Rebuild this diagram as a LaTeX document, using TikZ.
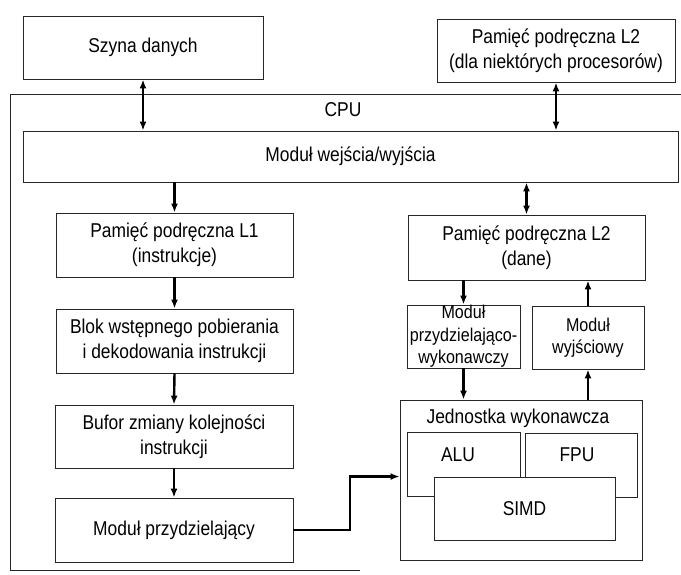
\documentclass[tikz,border=0pt]{standalone}
\usepackage{fontspec}
\setmainfont{Liberation Sans}[FakeStretch=0.87]
\usetikzlibrary{arrows.meta}
\newcommand{\bigfs}{\fontsize{20}{25}\selectfont}
\newcommand{\smallfs}{\fontsize{18.5}{22.5}\selectfont}
\begin{document}
\begin{tikzpicture}[x=1pt,y=-1pt,
  box/.style={draw=black!85, line width=0.9pt, inner sep=0pt, align=center, font=\bigfs},
  sbox/.style={box, font=\smallfs},
  txt/.style={inner sep=0pt, align=center, font=\bigfs},
  arr/.style={line width=2.4pt, -{Latex[length=9pt,width=7pt]}},
  dbl/.style={line width=2.4pt, {Latex[length=9pt,width=7pt]}-{Latex[length=9pt,width=7pt]}},
  link/.style={line width=2.4pt}]
\fill[white] (0,0) rectangle (681,574);
\useasboundingbox (0,0) rectangle (681,574);

% outer boxes
\node[box, minimum width=240pt, minimum height=63pt] (szyna) at (143,47.5) {Szyna danych};
\node[box, minimum width=238pt, minimum height=63pt] (l2top) at (556,50.5) {Pamięć podręczna L2\\(dla niektórych procesorów)};

% CPU frame
\coordinate (cpuTR) at (681,94);
\coordinate (cpuTL) at (10,94);
\coordinate (cpuBL) at (10,570);
\coordinate (cpuBR) at (360,570);
\draw[black!85, line width=0.9pt] (cpuTR) -- (cpuTL) -- (cpuBL) -- (cpuBR);
\node[txt] (cpu) at (343,110) {CPU};

\node[box, minimum width=655pt, minimum height=51pt] (io) at (350.5,156.5) {Moduł wejścia/wyjścia};

% left column
\node[box, minimum width=237pt, minimum height=64pt] (l1) at (174.5,245) {Pamięć podręczna L1\\(instrukcje)};
\node[box, minimum width=237pt, minimum height=64pt] (blok) at (174.5,341) {Blok wstępnego pobierania\\i dekodowania instrukcji};
\node[box, minimum width=238pt, minimum height=63pt] (bufor) at (174,436.5) {Bufor zmiany kolejności\\instrukcji};
\node[box, minimum width=238pt, minimum height=64pt] (przydz) at (174,530) {Moduł przydzielający};

% right column
\node[box, minimum width=237pt, minimum height=65pt] (l2d) at (526.5,247.5) {Pamięć podręczna L2\\(dane)};
\node[sbox, minimum width=113pt, minimum height=63pt] (pw) at (463.5,336.5) {Moduł\\przydzielająco-\\wykonawczy};
\node[sbox, minimum width=112pt, minimum height=63pt] (wy) at (588,337.5) {Moduł\\wyjściowy};
\node[box, minimum width=242pt, minimum height=160pt] (jw) at (521,480) {};
\node[txt] (jwt) at (518,418) {Jednostka wykonawcza};
\node[box, minimum width=113pt, minimum height=64pt] (alu) at (463.5,464) {};
\node[box, minimum width=112pt, minimum height=64pt] (fpu) at (581,465) {};
\node[txt] (alut) at (458,455) {ALU};
\node[txt] (fput) at (577,455) {FPU};
\node[box, fill=white, minimum width=181pt, minimum height=63pt] (simd) at (524.5,508.5) {SIMD};

% connectors
\draw[dbl] (szyna.south) -- (szyna.south |- io.north);
\draw[dbl] (l2top.south) -- (l2top.south |- io.north);
\draw[arr] (l1.north |- io.south) -- (l1.north);
\draw[arr] (l1.south) -- (blok.north);
\draw[arr] (blok.south) -- (bufor.north);
\draw[arr] (bufor.south) -- (przydz.north);
\draw[dbl] (l2d.north |- io.south) -- (l2d.north);
\draw[arr] (pw.north |- l2d.south) -- (pw.north);
\draw[arr] (wy.north) -- (wy.north |- l2d.south);
\draw[arr] (pw.south) -- (pw.south |- jw.north);
\draw[arr] (wy.south |- jw.north) -- (wy.south);
\coordinate (bend) at (350,0);
\draw[link, -{Latex[length=9pt,width=7pt]}] (przydz.east) -- (przydz.east -| bend) -- (bend |- simd.north) -- (jw.west |- simd.north);
\end{tikzpicture}
\end{document}
